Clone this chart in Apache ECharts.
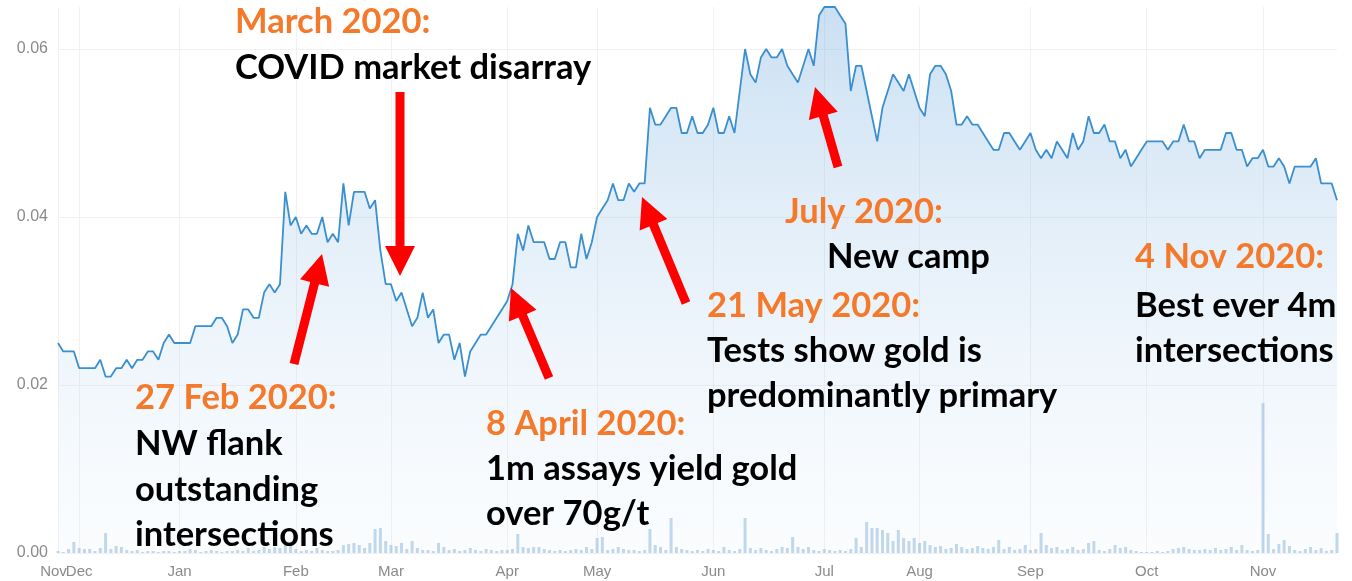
<!DOCTYPE html>
<html style="height: 100%">
<head>
  <meta charset="utf-8">
  <title>Share price 2019-2020 with announcements</title>
  <script src="https://cdn.jsdelivr.net/npm/echarts@6/dist/echarts.min.js"></script>
</head>
<body style="height: 100%; margin: 0; background: #fff">
  <div id="main" style="width: 1352px; height: 581px"></div>
  <script type="text/javascript">
    // month labels, one entry per block of trading days
    var months = ['Nov', 'Dec', 'Jan', 'Feb', 'Mar', 'Apr', 'May', 'Jun', 'Jul', 'Aug', 'Sep', 'Oct', 'Nov'];

    // closing price per trading day
    var priceNov19 = [0.025, 0.024, 0.024, 0.024];
    var priceDec19 = [0.022, 0.022, 0.022, 0.022, 0.023, 0.021, 0.021, 0.022, 0.022, 0.023, 0.022, 0.023, 0.023, 0.024, 0.024, 0.023, 0.025, 0.026, 0.025];
    var priceJan20 = [0.025, 0.025, 0.025, 0.027, 0.027, 0.027, 0.027, 0.028, 0.028, 0.027, 0.025, 0.026, 0.029, 0.029, 0.028, 0.028, 0.031, 0.032, 0.031, 0.032, 0.043, 0.039];
    var priceFeb20 = [0.040, 0.038, 0.039, 0.038, 0.038, 0.040, 0.037, 0.038, 0.037, 0.044, 0.039, 0.043, 0.043, 0.043, 0.041, 0.042, 0.036, 0.032];
    var priceMar20 = [0.032, 0.030, 0.031, 0.029, 0.027, 0.028, 0.031, 0.028, 0.029, 0.025, 0.026, 0.026, 0.023, 0.025, 0.021, 0.024, 0.025, 0.026, 0.026, 0.027, 0.028, 0.029];
    var priceApr20 = [0.030, 0.032, 0.038, 0.036, 0.039, 0.037, 0.037, 0.037, 0.035, 0.035, 0.037, 0.037, 0.034, 0.034, 0.038, 0.035, 0.037];
    var priceMay20 = [0.040, 0.041, 0.042, 0.044, 0.042, 0.042, 0.044, 0.043, 0.044, 0.044, 0.053, 0.051, 0.051, 0.052, 0.053, 0.053, 0.050, 0.050, 0.052, 0.050, 0.050, 0.051];
    var priceJun20 = [0.053, 0.050, 0.050, 0.052, 0.050, 0.055, 0.060, 0.057, 0.056, 0.059, 0.060, 0.059, 0.059, 0.060, 0.058, 0.057, 0.056, 0.058, 0.060, 0.058, 0.064];
    var priceJul20 = [0.065, 0.065, 0.065, 0.064, 0.063, 0.055, 0.058, 0.058, 0.055, 0.052, 0.049, 0.053, 0.055, 0.057, 0.056, 0.055, 0.057, 0.055];
    var priceAug20 = [0.053, 0.052, 0.057, 0.058, 0.058, 0.057, 0.055, 0.051, 0.051, 0.052, 0.051, 0.051, 0.050, 0.049, 0.048, 0.048, 0.050, 0.050, 0.049, 0.048, 0.049];
    var priceSep20 = [0.050, 0.048, 0.047, 0.048, 0.047, 0.049, 0.048, 0.047, 0.050, 0.048, 0.049, 0.052, 0.050, 0.050, 0.051, 0.049, 0.049, 0.047, 0.048, 0.046, 0.047, 0.048];
    var priceOct20 = [0.049, 0.049, 0.049, 0.049, 0.048, 0.049, 0.049, 0.051, 0.049, 0.049, 0.047, 0.048, 0.048, 0.048, 0.048, 0.050, 0.050, 0.048, 0.048, 0.046, 0.047, 0.047];
    var priceNov20 = [0.048, 0.046, 0.046, 0.047, 0.046, 0.044, 0.046, 0.046, 0.046, 0.046, 0.047, 0.044, 0.044, 0.044, 0.042];

    // traded volume per day (relative units)
    var volNov19 = [2, 1, 4, 11];
    var volDec19 = [5, 4, 4, 2, 5, 20, 4, 7, 6, 3, 2, 3, 1, 2, 2, 1, 2, 2, 1];
    var volJan20 = [2, 2, 4, 3, 1, 2, 3, 2, 1, 2, 2, 3, 2, 5, 2, 3, 6, 4, 6, 5, 10, 7];
    var volFeb20 = [4, 2, 3, 2, 5, 3, 2, 2, 3, 8, 9, 10, 8, 5, 10, 24, 25, 12];
    var volMar20 = [8, 7, 10, 4, 12, 5, 3, 3, 2, 10, 6, 3, 4, 2, 3, 5, 3, 2, 4, 3, 2, 3];
    var volApr20 = [3, 4, 19, 6, 5, 6, 6, 4, 3, 2, 3, 2, 3, 4, 3, 6, 4];
    var volMay20 = [15, 16, 3, 4, 6, 4, 3, 3, 2, 3, 24, 8, 6, 3, 35, 6, 4, 3, 2, 3, 2, 4];
    var volJun20 = [3, 2, 6, 3, 2, 4, 35, 5, 3, 5, 3, 2, 4, 6, 5, 16, 6, 4, 6, 3, 2];
    var volJul20 = [4, 3, 2, 3, 2, 4, 15, 6, 31, 25, 25, 23, 20, 12, 23, 15, 12, 15];
    var volAug20 = [10, 12, 8, 6, 7, 4, 5, 9, 6, 4, 5, 7, 5, 4, 6, 13, 4, 6, 3, 4, 8];
    var volSep20 = [3, 4, 20, 8, 5, 6, 3, 4, 6, 3, 4, 10, 12, 3, 2, 4, 8, 5, 6, 3, 2, 1];
    var volOct20 = [1, 1, 2, 1, 2, 4, 5, 6, 4, 3, 3, 4, 3, 5, 3, 4, 6, 3, 8, 3, 2, 3];
    var volNov20 = [150, 19, 4, 9, 13, 7, 3, 2, 4, 6, 3, 5, 2, 3, 20];

    var yTicks = [0, 0.02, 0.04, 0.06];

    var priceBlocks = [priceNov19, priceDec19, priceJan20, priceFeb20, priceMar20, priceApr20, priceMay20,
      priceJun20, priceJul20, priceAug20, priceSep20, priceOct20, priceNov20];
    var volBlocks = [volNov19, volDec19, volJan20, volFeb20, volMar20, volApr20, volMay20,
      volJun20, volJul20, volAug20, volSep20, volOct20, volNov20];

    var categories = [], price = [], volume = [], monthStart = {};
    priceBlocks.forEach(function (block, m) {
      monthStart[categories.length] = true;
      block.forEach(function (v, k) {
        categories.push(months[m] + '|' + m + '|' + k);
        price.push(v);
        volume.push(volBlocks[m][k]);
      });
    });

    function isMonthStart(index) {
      return !!monthStart[index];
    }

    // annotation arrow as a polygon, tail -> tip
    function arrow(x1, y1, x2, y2) {
      var shaftW = 9, headW = 30, headL = 30;
      var dx = x2 - x1, dy = y2 - y1;
      var len = Math.sqrt(dx * dx + dy * dy);
      var ux = dx / len, uy = dy / len;
      var nx = -uy, ny = ux;
      var bx = x2 - ux * headL, by = y2 - uy * headL;
      return {
        type: 'polygon',
        z: 100,
        shape: {
          points: [
            [x1 + nx * shaftW / 2, y1 + ny * shaftW / 2],
            [bx + nx * shaftW / 2, by + ny * shaftW / 2],
            [bx + nx * headW / 2, by + ny * headW / 2],
            [x2, y2],
            [bx - nx * headW / 2, by - ny * headW / 2],
            [bx - nx * shaftW / 2, by - ny * shaftW / 2],
            [x1 - nx * shaftW / 2, y1 - ny * shaftW / 2]
          ]
        },
        style: { fill: '#ff0000' }
      };
    }

    var ORANGE = '#f5792a';
    function label(text, x, y, color) {
      return {
        type: 'text',
        z: 100,
        style: {
          text: text,
          x: x,
          y: y,
          fill: color || '#000',
          font: 'bold 34.5px Lato',
          textAlign: 'left',
          verticalAlign: 'middle',
          textVerticalAlign: 'middle'
        }
      };
    }

    var monthLabel = {
      color: '#8a8a8a',
      fontSize: 15,
      fontFamily: 'Liberation Sans',
      margin: 11,
      formatter: function (v) { return v.split('|')[0]; }
    };

    var option = {
      animation: false,
      grid: { left: 58, right: 15, top: 7, bottom: 28, outerBoundsMode: 'none' },
      xAxis: [
        {
          type: 'category',
          data: categories,
          boundaryGap: false,
          axisLine: { show: false },
          axisTick: { show: false },
          axisLabel: Object.assign({}, monthLabel, {
            interval: function (index) { return index > 0 && isMonthStart(index); }
          }),
          splitLine: {
            show: true,
            interval: isMonthStart,
            lineStyle: { color: '#f1f1f1', width: 1 }
          }
        },
        {
          // second bottom axis only carries the very first "Nov" label,
          // which overlaps "Dec" in the original
          type: 'category',
          data: categories,
          position: 'bottom',
          boundaryGap: false,
          axisLine: { show: false },
          axisTick: { show: false },
          splitLine: { show: false },
          axisLabel: Object.assign({}, monthLabel, {
            interval: function (index) { return index === 0; },
            showMinLabel: true,
            showMaxLabel: false,
            padding: [0, 9, 0, 0]
          })
        }
      ],
      yAxis: [
        {
          type: 'value',
          min: 0,
          max: 0.065,
          interval: 0.02,
          axisLine: { show: false },
          axisTick: { show: false },
          axisLabel: {
            showMaxLabel: false,
            formatter: function (v) { return yTicks.indexOf(+v.toFixed(2)) >= 0 ? v.toFixed(2) : ''; },
            color: '#8a8a8a',
            fontSize: 16,
            fontFamily: 'Liberation Sans',
            margin: 10
          },
          splitLine: { show: true, showMaxLine: false, lineStyle: { color: '#f1f1f1' } }
        },
        {
          type: 'value',
          min: 0,
          max: 546,
          show: false
        }
      ],
      series: [
        {
          name: 'Volume',
          type: 'bar',
          yAxisIndex: 1,
          data: volume,
          barWidth: 3,
          itemStyle: { color: 'rgba(130,175,215,0.5)' },
          z: 2
        },
        {
          name: 'Price',
          type: 'line',
          data: price,
          symbol: 'none',
          clip: false,
          lineStyle: { color: '#3a8fd0', width: 1.8 },
          areaStyle: {
            color: {
              type: 'linear', x: 0, y: 0, x2: 0, y2: 1,
              colorStops: [
                { offset: 0, color: 'rgba(105,165,220,0.5)' },
                { offset: 1, color: 'rgba(200,225,245,0.12)' }
              ]
            }
          },
          z: 3
        }
      ],
      graphic: [
        arrow(400, 92, 400, 276),
        arrow(294, 364, 322, 254),
        arrow(549, 378, 511, 288),
        arrow(686, 303, 642, 197),
        arrow(838, 167, 815, 87),

        label('March 2020:', 235, 22, ORANGE),
        label('COVID market disarray', 235, 68),

        label('27 Feb 2020:', 135, 398, ORANGE),
        label('NW flank', 135, 444),
        label('outstanding', 135, 490),
        label('intersections', 135, 535),

        label('8 April 2020:', 486, 424, ORANGE),
        label('1m assays yield gold', 486, 469),
        label('over 70g/t', 486, 514),

        label('21 May 2020:', 707, 306, ORANGE),
        label('Tests show gold is', 707, 351),
        label('predominantly primary', 707, 396),

        label('July 2020:', 785, 212, ORANGE),
        label('New camp', 827, 257),

        label('4 Nov 2020:', 1135, 257, ORANGE),
        label('Best ever 4m', 1135, 306),
        label('intersections', 1135, 351)
      ]
    };

    var chart = echarts.init(document.getElementById('main'));
    chart.setOption(option);
  </script>
</body>
</html>
